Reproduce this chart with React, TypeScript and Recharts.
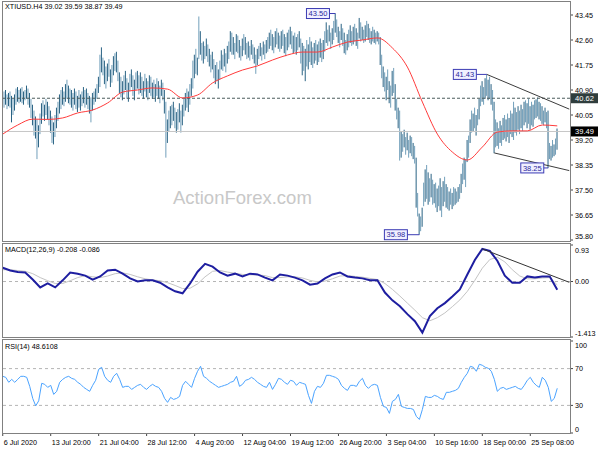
import { Bar, ComposedChart, Line, ReferenceLine, XAxis, YAxis } from "recharts";

const SLOTS = 379;
const FONT = "'Liberation Sans', Arial, sans-serif";

const TIME_TICKS = [0, 32, 64, 96, 128, 160, 192, 224, 256, 288, 320, 352];
const TIME_LABELS = [
  "6 Jul 2020", "13 Jul 20:00", "21 Jul 04:00", "28 Jul 12:00", "4 Aug 20:00", "12 Aug 04:00",
  "19 Aug 12:00", "26 Aug 20:00", "3 Sep 04:00", "10 Sep 16:00", "18 Sep 00:00", "25 Sep 08:00",
];
const PRICE_TICKS = [43.45, 42.6, 41.75, 40.9, 40.05, 39.2, 38.35, 37.5, 36.65, 35.8];
const MACD_TICKS = [0.93, 0, -1.413];
const RSI_TICKS = [100, 70, 30, 0];

// H4 bars, high and low
const HIGH = [
  40.95, 40.85, 40.9, 40.75, 40.8,
  40.85, 40.7, 40.6, 40.75, 40.95, 41.0, 40.9,
  40.95, 41.0, 40.85, 40.9, 41.05, 40.95, 40.8,
  40.6, 40.4, 40.2, 40.0, 39.9, 39.7,
  40.1, 40.45, 40.55, 40.4, 40.6, 40.5, 40.35,
  40.2, 40.0, 39.8, 40.05, 40.3,
  40.5, 40.75, 40.9, 41.0, 40.85, 41.1, 41.25, 41.05, 40.95,
  40.9, 40.8, 40.95, 40.85, 40.7, 40.9,
  40.75, 40.85, 41.0, 40.9, 40.95, 40.8, 40.7, 40.65, 40.8,
  40.85, 40.95, 41.1, 41.35,
  42.1, 42.35, 42.0,
  41.9, 41.7, 41.8, 41.95, 41.6, 41.75, 42.05, 42.15,
  42.2, 41.9,
  41.5, 41.35, 41.2, 41.4, 41.55, 41.3, 41.15, 41.45, 41.6, 41.4, 41.25, 41.5,
  41.55, 41.4, 41.5, 41.35, 41.2, 41.45,
  41.3, 41.2, 41.4, 41.35, 41.15, 41.25, 41.1, 41.3, 41.2, 41.05, 41.25, 41.15,
  40.9, 40.5, 39.9, 40.2, 40.35,
  40.4, 40.5, 40.3, 40.15, 40.25, 40.45, 40.2, 40.4,
  40.6, 40.8, 40.95, 40.85, 41.1, 41.3,
  41.9, 42.1, 42.3, 42.0,
  43.4, 42.9,
  42.5, 42.55, 42.4, 42.65, 42.45, 42.3, 42.1, 42.2,
  41.95, 41.75, 41.85, 41.6, 41.9,
  42.25, 42.1, 42.3, 42.15, 42.4, 42.55, 42.9,
  42.85,
  42.7, 42.5, 42.8,
  42.75, 42.6, 42.4, 42.65, 42.8, 42.7, 42.5,
  42.55, 42.4, 42.6, 42.45, 42.35, 42.1, 42.3,
  42.4, 42.5, 42.35, 42.55, 42.45, 42.6, 42.7,
  42.85, 42.95, 42.8, 42.7, 42.9, 43.0, 42.85,
  42.75, 42.9, 42.95, 42.8, 42.7, 42.85, 42.95, 43.05, 42.9, 42.75, 42.85, 42.7, 42.8, 42.9,
  42.65, 42.5, 42.4, 42.3, 42.6, 42.45, 42.7, 42.55, 42.35, 42.5, 42.6, 42.45, 42.55, 42.65, 42.5, 42.6,
  42.9, 43.2, 42.95, 43.1, 42.85, 43.0, 43.25, 43.5, 43.3, 43.05, 42.9, 43.15, 43.0,
  42.85, 42.6, 42.8, 42.95, 43.1, 42.9, 43.05, 43.15, 43.0, 42.85,
  43.35, 43.2, 43.05, 42.95, 43.1, 43.25, 43.15, 43.0, 42.9, 43.05, 42.95, 42.85, 42.9,
  42.85, 42.7,
  42.1, 41.7, 41.5, 41.35, 41.6, 41.2, 41.05, 41.55,
  41.65, 41.1, 40.6, 40.3,
  40.2, 39.5, 39.4, 39.55, 39.3, 39.45, 39.2, 39.35,
  39.3, 39.1, 39.0,
  38.6, 37.4, 36.7, 36.6, 36.9,
  37.75, 38.2,
  38.35, 38.1, 37.9, 38.05, 37.85, 37.7,
  37.75, 37.55, 37.65,
  37.9, 37.6, 37.8, 37.95, 37.7,
  37.6, 37.45, 37.55, 37.4, 37.6,
  37.55, 37.45, 37.6, 37.7,
  38.05,
  38.4, 38.6, 38.55,
  39.2, 39.35,
  39.9, 40.2, 40.1, 40.3, 40.05, 40.25, 40.6,
  41.05, 41.2, 41.0, 41.3, 41.43,
  41.25, 41.35, 41.1, 40.9,
  40.5, 39.9,
  39.8, 39.6, 39.85, 39.7, 39.95,
  40.05, 39.9, 40.1, 39.95, 40.2, 40.1, 40.5,
  40.3, 40.15, 40.35, 40.2, 40.4, 40.25, 40.5,
  40.55, 40.45, 40.6, 40.35, 40.5, 40.4, 40.55,
  40.58, 40.65, 40.5, 40.45,
  40.35, 40.2, 40.3, 40.15,
  40.2,
  39.1, 39.0, 39.2, 39.05,
  39.25, 39.59,
];

const LOW = [
  40.45, 40.3, 40.4, 40.25, 40.35,
  40.3, 39.8, 40.05, 40.2, 40.4, 40.5, 40.45,
  40.5, 40.45, 40.4, 40.55, 40.6, 40.4, 40.3,
  39.95, 39.7, 39.35, 39.25, 38.55, 38.95,
  39.4, 39.75, 40.0, 39.85, 40.05, 39.9, 39.7,
  39.45, 39.1, 39.05, 39.3, 39.6,
  39.85, 40.1, 40.25, 40.4, 40.35, 40.5, 40.6, 40.45, 40.4,
  40.3, 40.2, 40.4, 40.25, 40.15, 40.3,
  40.2, 40.35, 40.45, 40.3, 40.4, 40.25, 40.1, 39.8, 40.2,
  40.4, 40.5, 40.6, 40.8,
  41.0, 41.5, 41.4,
  41.1, 40.95, 41.2, 41.35, 41.0, 41.15, 41.4, 41.55,
  41.5, 41.2,
  40.8, 40.65, 40.55, 40.75, 40.9, 40.6, 40.5, 40.85, 41.0, 40.7, 40.55, 40.9,
  40.95, 40.75, 40.8, 40.7, 40.6, 40.85,
  40.65, 40.55, 40.8, 40.7, 40.6, 40.65, 40.5, 40.7, 40.6, 40.45, 40.7, 40.55,
  40.1, 38.6, 39.1, 39.5, 39.6,
  39.7, 39.85, 39.6, 39.45, 39.55, 39.8, 39.45, 39.7,
  40.0, 40.2, 40.3, 40.15, 40.4, 40.7,
  40.95, 41.3, 41.45, 41.4,
  41.95, 42.1,
  41.9, 41.8, 41.95, 42.05, 41.85, 41.7, 41.5, 41.6,
  41.3, 41.1, 41.2, 40.95, 41.25,
  41.6, 41.55, 41.7, 41.5, 41.8, 41.95, 42.2,
  42.1,
  42.1, 41.95, 42.2,
  42.15, 42.0, 41.9, 42.05, 42.25, 42.1, 41.95,
  42.0, 41.9, 42.1, 41.95, 41.8, 41.45, 41.75,
  41.95, 42.05, 41.9, 42.1, 41.95, 42.15, 42.2,
  42.3, 42.4, 42.25, 42.15, 42.35, 42.45, 42.3,
  42.2, 42.3, 42.4, 42.15, 42.05, 42.25, 42.35, 42.45, 42.3, 42.15, 42.2, 42.1, 42.25, 42.35,
  41.8, 41.4, 41.55, 41.2, 41.7, 41.6, 41.85, 41.75, 41.65, 41.8, 41.9, 41.75, 41.85, 42.0, 41.85, 41.95,
  42.2, 42.5, 42.4, 42.55, 42.3, 42.45, 42.6, 42.85, 42.7, 42.5, 42.35, 42.6, 42.4,
  42.15, 42.1, 42.25, 42.35, 42.5, 42.4, 42.45, 42.55, 42.4, 42.3,
  42.65, 42.55, 42.6, 42.5, 42.55, 42.7, 42.6, 42.5, 42.45, 42.55, 42.5, 42.45, 42.55,
  42.45, 41.75,
  41.3, 41.0, 40.85, 40.55, 40.9, 40.45, 40.3, 40.7,
  40.8, 40.2, 39.9, 39.6,
  38.5, 38.6, 38.8, 38.95, 38.7, 38.85, 38.6, 38.75,
  38.65, 38.55, 38.4,
  36.9, 36.6, 35.98, 36.1, 36.25,
  36.95, 37.1,
  37.2, 37.0, 37.1, 37.25, 37.0, 37.05,
  36.9, 36.75, 36.95,
  36.8, 36.58, 36.95, 37.1, 36.9,
  36.85, 36.8, 37.0, 36.85, 36.95,
  37.0, 37.05, 37.1, 37.2,
  37.4,
  37.7, 37.85, 37.6,
  38.45, 38.6,
  39.1, 39.45, 39.5, 39.6, 39.35, 39.7, 39.9,
  40.35, 40.5, 40.4, 40.6, 40.7,
  40.55, 40.6, 40.4, 40.2,
  38.75, 38.95,
  39.0, 38.9, 39.1, 39.0, 39.2,
  39.25, 39.15, 39.3, 39.1, 39.4, 39.3, 39.2,
  39.45, 39.35, 39.55, 39.4, 39.6, 39.5, 39.7,
  39.8, 39.6, 39.75, 39.55, 39.7, 39.65, 39.9,
  39.95, 40.0, 39.9, 39.85,
  39.75, 39.7, 39.8, 39.6,
  38.25,
  38.55, 38.5, 38.6, 38.65,
  38.7, 38.87,
];

// moving average, one value every 10 bars
const MA = [
  39.4, 39.71, 39.91, 39.9, 39.95, 40.12, 40.22, 40.46, 40.83, 40.9,
  40.97, 40.93, 40.63, 40.73, 41.14, 41.38, 41.58, 41.72, 41.92, 42.09,
  42.19, 42.19, 42.36, 42.53, 42.6, 42.67, 42.33, 41.68, 40.49, 39.4,
  38.79, 38.52, 38.96, 39.47, 39.51, 39.51, 39.71, 39.68,
];

// MACD(12,26,9), one value every 5 bars
const MACD = [
  0.35, 0.28, 0.24, 0.23, 0.05, -0.15, -0.05, -0.15, 0.03, 0.23,
  0.2, 0.15, 0.05, 0.13, 0.28, 0.3, 0.2, 0.08, 0.0, 0.03,
  0.03, -0.03, -0.15, -0.25, -0.3, -0.05, 0.25, 0.45, 0.38, 0.23,
  0.15, 0.2, 0.13, 0.2, 0.18, 0.1, 0.03, 0.18, 0.15, 0.1,
  0.03, -0.08, -0.05, 0.08, 0.18, 0.23, 0.13, 0.1, 0.08, 0.03,
  0.03, -0.28, -0.48, -0.63, -0.83, -1.01, -1.3, -0.88, -0.68, -0.55,
  -0.38, -0.2, 0.18, 0.55, 0.83, 0.78, 0.53, 0.15, -0.03, -0.03,
  0.13, 0.1, 0.13, 0.13, -0.208,
];
const SIGNAL = [
  0.3, 0.3, 0.28, 0.26, 0.2, 0.1, 0.02, -0.05, -0.05, 0.02,
  0.1, 0.15, 0.12, 0.1, 0.14, 0.2, 0.22, 0.18, 0.12, 0.07,
  0.04, 0.02, -0.03, -0.1, -0.18, -0.17, -0.06, 0.12, 0.26, 0.28,
  0.24, 0.21, 0.18, 0.17, 0.17, 0.15, 0.1, 0.1, 0.12, 0.12,
  0.09, 0.03, -0.01, 0.01, 0.07, 0.14, 0.15, 0.13, 0.11, 0.08,
  0.05, -0.05, -0.2, -0.37, -0.55, -0.73, -0.92, -1.0, -0.92, -0.8,
  -0.64, -0.47, -0.25, 0.03, 0.34, 0.56, 0.62, 0.5, 0.3, 0.14,
  0.07, 0.07, 0.09, 0.1, -0.086,
];

// RSI(14), one value every 2 bars
const RSI = [
  61.6, 60.5, 55.1, 58.3, 55.1, 58.3, 61.6, 61.6, 60.5, 50.7,
  37.6, 29.5, 35.0, 54.0, 52.9, 49.6, 51.8, 42.0, 45.3, 55.1,
  58.3, 60.5, 61.6, 59.4, 58.3, 55.1, 52.9, 49.6, 47.4, 45.3,
  51.8, 57.3, 69.2, 71.4, 61.6, 57.3, 55.1, 61.6, 64.9, 58.3,
  49.6, 50.7, 50.7, 47.4, 49.6, 51.8, 52.9, 49.6, 47.4, 50.7,
  52.9, 50.7, 49.6, 45.3, 37.6, 33.3, 38.7, 36.5, 37.6, 39.8,
  51.8, 56.2, 52.9, 49.6, 59.4, 67.1, 72.5, 61.6, 59.4, 56.2,
  54.0, 51.8, 49.6, 50.7, 51.8, 52.9, 55.1, 56.2, 61.6, 50.7,
  52.9, 57.3, 58.3, 60.5, 58.3, 55.1, 52.9, 50.7, 49.6, 55.1,
  47.4, 52.9, 59.4, 58.3, 55.1, 52.9, 57.3, 56.2, 51.8, 55.1,
  54.0, 52.9, 40.9, 32.2, 45.3, 50.7, 49.6, 54.0, 62.7, 62.7,
  61.6, 60.5, 58.3, 51.8, 48.5, 46.3, 51.8, 51.8, 50.7, 56.2,
  59.4, 51.8, 48.5, 51.8, 52.9, 51.8, 38.7, 28.9, 27.8, 21.3,
  34.4, 36.5, 42.0, 28.9, 27.8, 26.7, 26.7, 25.6, 18.0, 14.7,
  25.6, 39.8, 38.7, 38.7, 40.9, 39.8, 37.6, 36.5, 44.2, 44.2,
  45.3, 46.3, 48.5, 55.1, 60.5, 64.9, 72.5, 71.4, 67.1, 74.7,
  73.6, 71.4, 70.3, 67.1, 58.3, 45.3, 48.5, 49.6, 47.4, 48.5,
  49.6, 50.7, 48.5, 47.4, 51.8, 57.3, 60.5, 55.1, 51.8, 49.6,
  60.5, 57.3, 49.6, 34.4, 37.6, 48.6,
];

const rows = Array.from({ length: SLOTS }, (_, i) => ({
  i,
  range: i < HIGH.length ? [LOW[i], HIGH[i]] : null,
  ma: i % 10 === 0 && i / 10 < MA.length ? MA[i / 10] : null,
  macd: i % 5 === 0 && i / 5 < MACD.length ? MACD[i / 5] : null,
  signal: i % 5 === 0 && i / 5 < SIGNAL.length ? SIGNAL[i / 5] : null,
  rsi: i % 2 === 0 && i / 2 < RSI.length ? RSI[i / 2] : null,
}));

function PriceBar(props: any) {
  const { x, y, width, height, index, payload } = props;
  if (!payload || payload.range == null || !isFinite(y) || !isFinite(height)) return <g />;
  const top = Math.min(y, y + height);
  return (
    <rect
      x={x + width / 2 - 0.5}
      y={top}
      width={1}
      height={Math.max(Math.abs(height), 1)}
      fill={index % 2 ? "#73a0bb" : "#2a6384"}
    />
  );
}

const rightTick = (format: (v: number) => string, nudge: (v: number) => number = () => 0) =>
  (props: any) => (
    <text x={props.x} y={props.y + nudge(props.payload.value)} dy="0.35em" fontSize={7.2} fill="#000">
      {format(props.payload.value)}
    </text>
  );

const TimeTick = (props: any) => (
  <text x={props.x + 1} y={props.y + 6.5} fontSize={7.2} fill="#000" textAnchor="start">
    {TIME_LABELS[TIME_TICKS.indexOf(props.payload.value)]}
  </text>
);

const priceTag = (text: string) => (props: any) => {
  const { x, y } = props.viewBox;
  return (
    <g>
      <rect x={x - 23} y={y - 5} width={23} height={10} fill="#f0f0ff" stroke="#3c3cb4" />
      <text x={x - 11.5} y={y + 2.7} textAnchor="middle" fontSize={7.5} fill="#2a2a9c">
        {text}
      </text>
    </g>
  );
};

const axisTag = (text: string, bg: string) => (props: any) => {
  const { x, y, width } = props.viewBox;
  return (
    <g>
      <rect x={x + width + 1} y={y - 5} width={27} height={10} fill={bg} />
      <text x={x + width + 14.5} y={y + 2.7} textAnchor="middle" fontSize={7.5} fill="#fff">
        {text}
      </text>
    </g>
  );
};

const frame = (top: number, height: number) => (
  <div
    style={{
      position: "absolute",
      left: 2,
      top,
      width: 569,
      height,
      border: "1px solid #808080",
      boxSizing: "border-box",
      pointerEvents: "none",
    }}
  />
);

const caption = (text: string, top: number) => (
  <div style={{ position: "absolute", left: 5, top, fontSize: 7.2, lineHeight: "8px", color: "#000" }}>
    {text}
  </div>
);

export default function App() {
  return (
    <div
      style={{
        position: "absolute",
        left: 0,
        top: 0,
        width: 600,
        height: 450,
        background: "#fff",
        fontFamily: FONT,
        overflow: "hidden",
      }}
    >
      <div
        style={{
          position: "absolute",
          left: 173,
          top: 187,
          fontSize: 18.5,
          lineHeight: "22px",
          color: "#c8c8c8",
        }}
      >
        ActionForex.com
      </div>

      <div style={{ position: "absolute", left: 0, top: 0, width: 600, height: 241, overflow: "hidden" }}>
        <ComposedChart width={600} height={242} data={rows} margin={{ top: 3, right: 0, bottom: 2, left: 2 }}>
          <XAxis dataKey="i" hide scale="band" />
          <YAxis
            orientation="right"
            width={30}
            domain={[35.8, 43.858]}
            allowDataOverflow
            ticks={PRICE_TICKS}
            interval={0}
            axisLine={false}
            tickSize={3}
            tickLine={{ stroke: "#444" }}
            tick={rightTick(
              (v) => v.toFixed(2),
              (v) => (v === 35.8 ? -3.5 : 0),
            )}
          />
          <ReferenceLine y={40.62} stroke="#4b5b5b" strokeDasharray="3 2" label={axisTag("40.62", "#2f3d3d")} />
          <ReferenceLine y={39.49} stroke="#c6c6c6" label={axisTag("39.49", "#000")} />
          <Bar dataKey="range" barSize={1} shape={(p: any) => <PriceBar {...p} />} isAnimationActive={false} />
          <Line
            dataKey="ma"
            type="monotone"
            stroke="#ff3b3b"
            strokeWidth={1}
            dot={false}
            connectNulls
            isAnimationActive={false}
          />
          <ReferenceLine segment={[{ x: 323, y: 41.43 }, { x: 378, y: 40.25 }]} stroke="#3c3c3c" />
          <ReferenceLine segment={[{ x: 328, y: 38.76 }, { x: 378, y: 38.16 }]} stroke="#3c3c3c" />
          <ReferenceLine segment={[{ x: 218, y: 43.5 }, { x: 222, y: 43.5 }]} stroke="#3c3cb4" label={priceTag("43.50")} />
          <ReferenceLine segment={[{ x: 316, y: 41.43 }, { x: 323, y: 41.43 }]} stroke="#3c3cb4" label={priceTag("41.43")} />
          <ReferenceLine segment={[{ x: 270, y: 35.98 }, { x: 278, y: 35.98 }]} stroke="#3c3cb4" label={priceTag("35.98")} />
          <ReferenceLine segment={[{ x: 361, y: 38.25 }, { x: 364, y: 38.25 }]} stroke="#3c3cb4" label={priceTag("38.25")} />
        </ComposedChart>
      </div>

      <div style={{ position: "absolute", left: 0, top: 243, width: 600, height: 96 }}>
        <ComposedChart width={600} height={96} data={rows} margin={{ top: 2, right: 0, bottom: 2, left: 2 }}>
          <XAxis dataKey="i" hide scale="band" />
          <YAxis
            orientation="right"
            width={30}
            domain={[-1.413, 0.93]}
            allowDataOverflow
            ticks={MACD_TICKS}
            interval={0}
            axisLine={false}
            tickSize={3}
            tickLine={{ stroke: "#444" }}
            tick={rightTick(
              (v) => (v === 0 ? "0.00" : String(v)),
              (v) => (v === 0.93 ? 5 : v === -1.413 ? -4 : 0),
            )}
          />
          <ReferenceLine y={0} stroke="#b4b4b4" strokeDasharray="3 3" />
          <Line dataKey="signal" stroke="#c4c4c4" strokeWidth={1} dot={false} connectNulls isAnimationActive={false} />
          <Line dataKey="macd" stroke="#1e1ea0" strokeWidth={2} dot={false} connectNulls isAnimationActive={false} />
          <ReferenceLine segment={[{ x: 320, y: 0.83 }, { x: 378, y: -0.02 }]} stroke="#333" />
        </ComposedChart>
      </div>

      <div style={{ position: "absolute", left: 0, top: 338, width: 600, height: 112 }}>
        <ComposedChart width={600} height={112} data={rows} margin={{ top: 3, right: 0, bottom: 0, left: 2 }}>
          <XAxis
            dataKey="i"
            scale="band"
            height={17}
            ticks={TIME_TICKS}
            interval={0}
            axisLine={false}
            tickSize={3}
            tickLine={{ stroke: "#444" }}
            tick={TimeTick}
          />
          <YAxis
            orientation="right"
            width={30}
            domain={[0, 100]}
            ticks={RSI_TICKS}
            interval={0}
            axisLine={false}
            tickSize={3}
            tickLine={{ stroke: "#444" }}
            tick={rightTick(
              (v) => String(v),
              (v) => (v === 100 ? 4.5 : v === 0 ? -4 : 0),
            )}
          />
          <ReferenceLine y={70} stroke="#b4b4b4" strokeDasharray="3 3" />
          <ReferenceLine y={30} stroke="#b4b4b4" strokeDasharray="3 3" />
          <Line dataKey="rsi" stroke="#4aa3ff" strokeWidth={1} dot={false} connectNulls isAnimationActive={false} />
        </ComposedChart>
      </div>

      {frame(1, 241)}
      {frame(243, 95)}
      {frame(339, 95)}

      {caption("XTIUSD.H4  39.02 39.59 38.87 39.49", 3)}
      {caption("MACD(12,26,9) -0.208 -0.086", 246)}
      {caption("RSI(14) 48.6108", 343)}
    </div>
  );
}
